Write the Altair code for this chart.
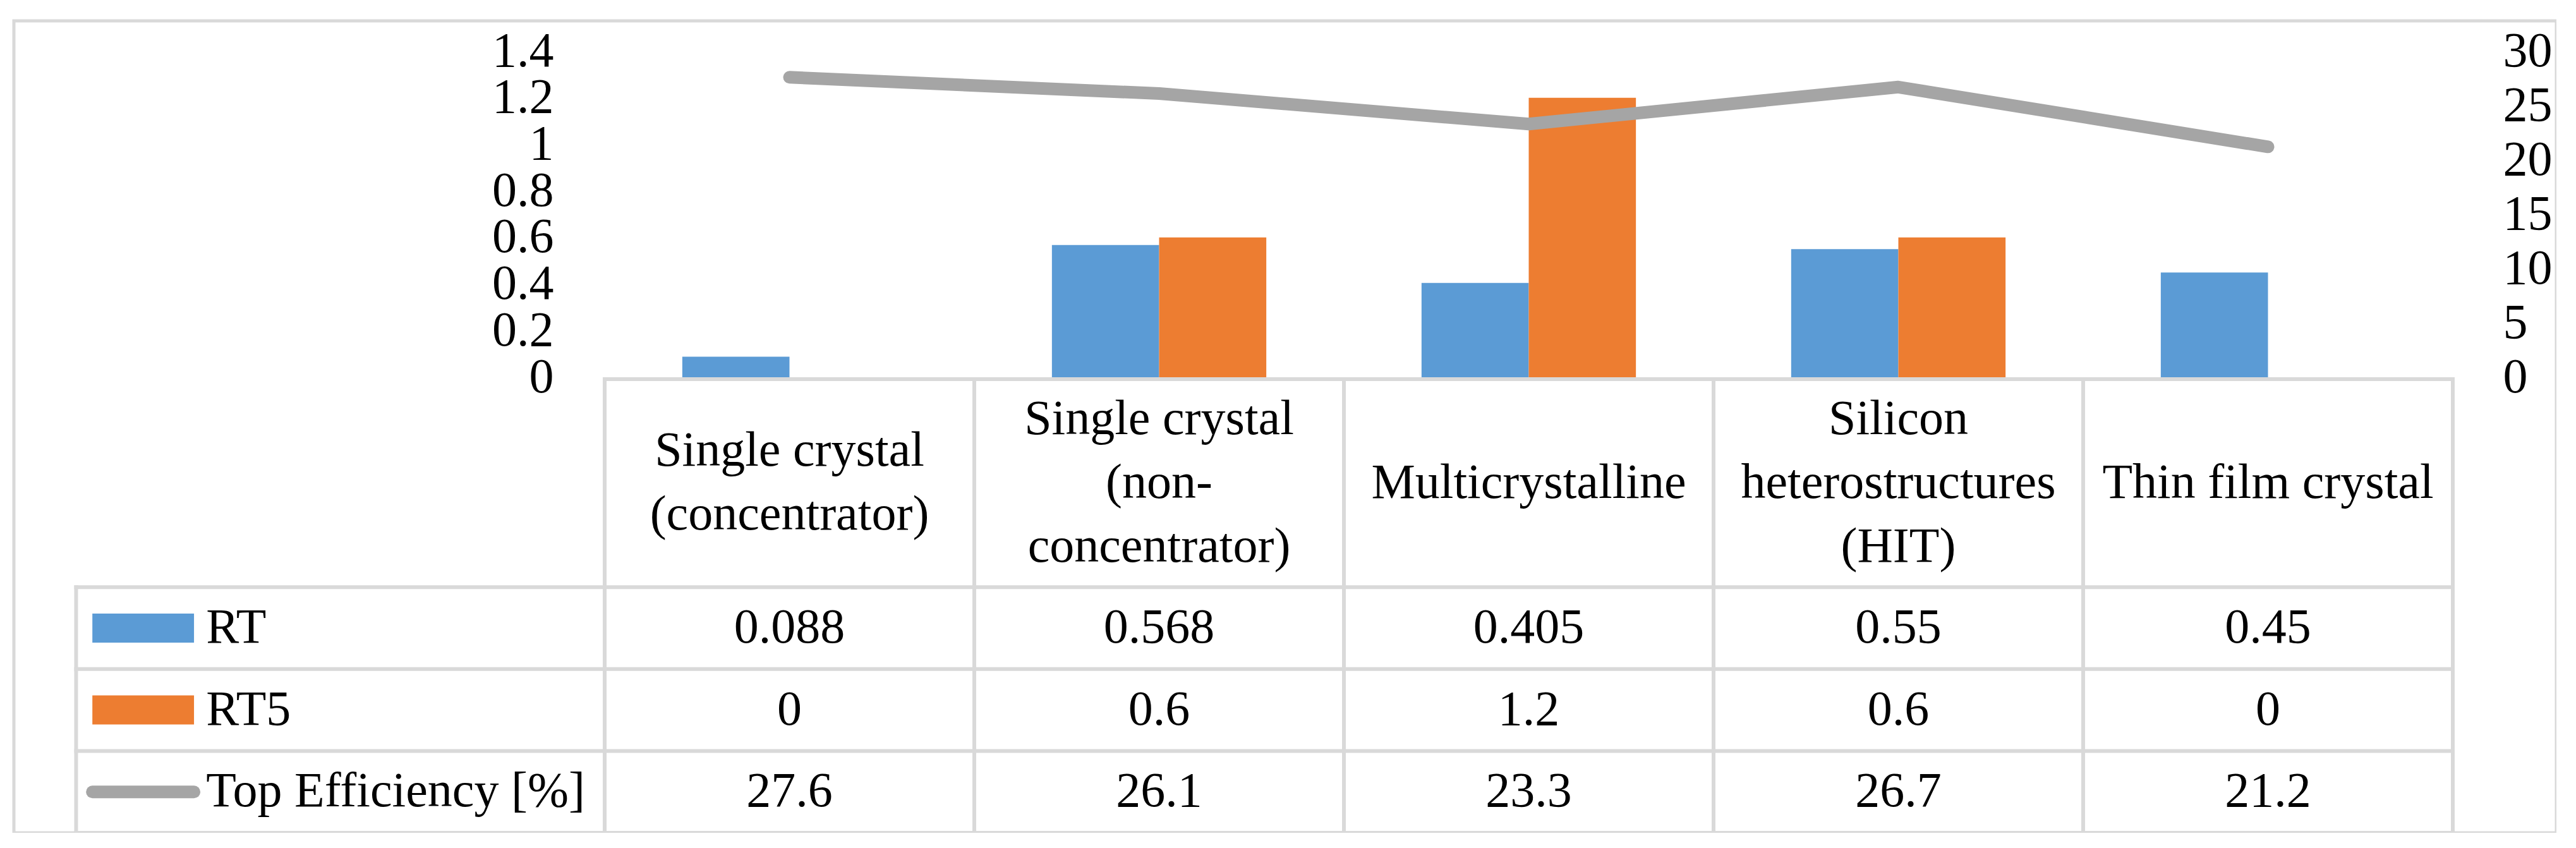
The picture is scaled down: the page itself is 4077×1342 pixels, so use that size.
import altair as alt
import pandas as pd

# ---------------- data ----------------
categories = [
    "Single crystal (concentrator)",
    "Single crystal (non-concentrator)",
    "Multicrystalline",
    "Silicon heterostructures (HIT)",
    "Thin film crystal",
]
header_labels = [
    "Single crystal\n(concentrator)",
    "Single crystal\n(non-\nconcentrator)",
    "Multicrystalline",
    "Silicon\nheterostructures\n(HIT)",
    "Thin film crystal",
]
rt = [0.088, 0.568, 0.405, 0.55, 0.45]
rt5 = [0, 0.6, 1.2, 0.6, 0]
eff = [27.6, 26.1, 23.3, 26.7, 21.2]
series_names = ["RT", "RT5", "Top Efficiency [%]"]
series_colors = ["#5B9BD5", "#ED7D31", "#A5A5A5"]
left_ticks = [0, 0.2, 0.4, 0.6, 0.8, 1, 1.2, 1.4]
right_ticks = [0, 5, 10, 15, 20, 25, 30]

# ---------------- layout (pixels inside the framed chart) ----------------
W, H = 4024, 1285
PLOT_X0, PLOT_X1 = 935, 3860
BAR_Y0, BAR_Y1 = 564, 48
TABLE_Y0, TABLE_Y1 = 567, 1285
HEADER_UNITS = 2.54
TABLE_UNITS = HEADER_UNITS + 3
ROW_PX = (TABLE_Y1 - TABLE_Y0) / TABLE_UNITS
LINE_H = 101
LEG_LEFT = -1.43
SW_X0, SW_X1 = -1.386, -1.111
LEG_TEXT_X = -1.078
GRID = "#D9D9D9"
FONT = "Liberation Serif"
FS = 78

# ---------------- tables ----------------
bars_df = pd.DataFrame(
    [{"category": c, "series": "RT", "value": v} for c, v in zip(categories, rt)]
    + [{"category": c, "series": "RT5", "value": v} for c, v in zip(categories, rt5)]
)
line_df = pd.DataFrame({"category": categories, "eff": eff})

ncol = len(categories)
rows_vals = [rt, rt5, eff]
text_rows = []
for i, lab in enumerate(header_labels):
    nlines = lab.count("\n") + 1
    first = HEADER_UNITS / 2 - (nlines - 1) / 2 * LINE_H / ROW_PX
    text_rows.append({"tx": i + 0.5, "ty": first, "label": lab})
for r, vals in enumerate(rows_vals):
    for i, v in enumerate(vals):
        text_rows.append({"tx": i + 0.5, "ty": HEADER_UNITS + r + 0.5, "label": str(v)})
text_df = pd.DataFrame(text_rows)

legend_text_df = pd.DataFrame(
    {"tx": [LEG_TEXT_X] * 3,
     "ty": [HEADER_UNITS + r + 0.5 for r in range(3)],
     "label": series_names}
)
swatch_df = pd.DataFrame(
    {"x0": [SW_X0] * 2, "x1": [SW_X1] * 2,
     "y0": [HEADER_UNITS + r + 0.5 - 0.1775 for r in range(2)],
     "y1": [HEADER_UNITS + r + 0.5 + 0.1775 for r in range(2)],
     "series": series_names[:2]}
)
legline_df = pd.DataFrame({"x0": [SW_X0], "x1": [SW_X1], "y": [HEADER_UNITS + 2.5]})

grid = [{"x0": 0, "x1": ncol, "y0": 0, "y1": 0}]
for k in range(4):
    yy = HEADER_UNITS + k
    grid.append({"x0": LEG_LEFT, "x1": ncol, "y0": yy, "y1": yy})
for i in range(ncol + 1):
    grid.append({"x0": i, "x1": i, "y0": 0, "y1": TABLE_UNITS})
grid.append({"x0": LEG_LEFT, "x1": LEG_LEFT, "y0": HEADER_UNITS, "y1": TABLE_UNITS})
grid_df = pd.DataFrame(grid)

# ---------------- scales ----------------
def xcat():
    return alt.Scale(domain=categories, range=[PLOT_X0, PLOT_X1],
                     paddingInner=0.42, paddingOuter=0.21)

def tx_scale():
    return alt.Scale(domain=[0, ncol], range=[PLOT_X0, PLOT_X1], nice=False, zero=False)

def ty_scale():
    return alt.Scale(domain=[0, TABLE_UNITS], range=[TABLE_Y0, TABLE_Y1], nice=False, zero=False)

axis_common = dict(ticks=False, domain=False, grid=False, labelPadding=0, title=None,
                   labelFont=FONT, labelFontSize=FS, labelColor="black", format="~g",
                   labelOverlap=False, labelBound=False, labelFlush=False)

# ---------------- layers ----------------
grid_layer = alt.Chart(grid_df).mark_rule(color=GRID, strokeWidth=6, strokeCap="square").encode(
    x=alt.X("x0:Q", scale=tx_scale(), axis=None),
    x2="x1:Q",
    y=alt.Y("y0:Q", scale=ty_scale(), axis=None),
    y2="y1:Q",
)

bars = alt.Chart(bars_df).mark_bar().encode(
    x=alt.X("category:N", scale=xcat(), sort=categories, axis=None),
    xOffset=alt.XOffset("series:N", scale=alt.Scale(domain=["RT", "RT5"])),
    y=alt.Y("value:Q",
            scale=alt.Scale(domain=[0, 1.4], range=[BAR_Y0, BAR_Y1], nice=False),
            axis=alt.Axis(orient="left", values=left_ticks, offset=-854, **axis_common)),
    color=alt.Color("series:N", scale=alt.Scale(domain=series_names[:2], range=series_colors[:2]),
                    legend=None),
)

line = alt.Chart(line_df).mark_line(color=series_colors[2], strokeWidth=20,
                                    strokeCap="round", strokeJoin="round").encode(
    x=alt.X("category:N", scale=xcat(), sort=categories, axis=None),
    y=alt.Y("eff:Q",
            scale=alt.Scale(domain=[0, 30], range=[BAR_Y0, BAR_Y1], nice=False),
            axis=alt.Axis(orient="right", values=right_ticks, offset=-85, **axis_common)),
)

table_text = alt.Chart(text_df).mark_text(
    font=FONT, fontSize=FS, color="black", align="center", baseline="middle",
    lineBreak="\n", lineHeight=LINE_H,
).encode(
    x=alt.X("tx:Q", scale=tx_scale(), axis=None),
    y=alt.Y("ty:Q", scale=ty_scale(), axis=None),
    text="label:N",
)

legend_text = alt.Chart(legend_text_df).mark_text(
    font=FONT, fontSize=FS, color="black", align="left", baseline="middle",
).encode(
    x=alt.X("tx:Q", scale=tx_scale(), axis=None),
    y=alt.Y("ty:Q", scale=ty_scale(), axis=None),
    text="label:N",
)

swatches = alt.Chart(swatch_df).mark_rect().encode(
    x=alt.X("x0:Q", scale=tx_scale(), axis=None),
    x2="x1:Q",
    y=alt.Y("y0:Q", scale=ty_scale(), axis=None),
    y2="y1:Q",
    color=alt.Color("series:N", scale=alt.Scale(domain=series_names[:2], range=series_colors[:2]),
                    legend=None),
)

legline = alt.Chart(legline_df).mark_rule(color=series_colors[2], strokeWidth=20,
                                          strokeCap="round").encode(
    x=alt.X("x0:Q", scale=tx_scale(), axis=None),
    x2="x1:Q",
    y=alt.Y("y:Q", scale=ty_scale(), axis=None),
)

chart = alt.layer(
    grid_layer, bars, line, table_text, legend_text, swatches, legline
).resolve_scale(
    x="independent", y="independent", color="independent"
).properties(
    width=W, height=H,
    autosize=alt.AutoSizeParams(type="none"),
    padding={"left": 14, "top": 25, "right": 0, "bottom": 0},
    background="white",
).configure_view(
    stroke=GRID, strokeWidth=5,
)

chart.save("out.html", embed_options={"renderer": "svg", "actions": False})
